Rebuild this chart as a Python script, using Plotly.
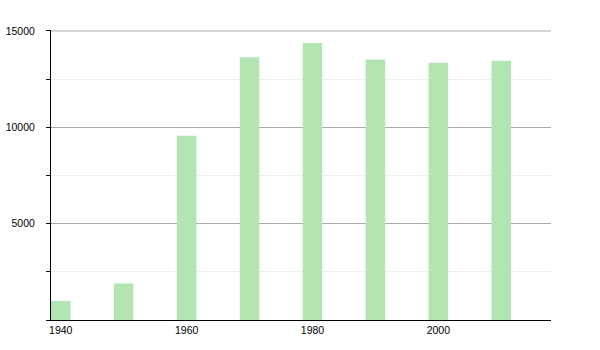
import plotly.graph_objects as go

years = [1940, 1950, 1960, 1970, 1980, 1990, 2000, 2010]
population = [990, 1900, 9560, 13640, 14370, 13520, 13350, 13450]
x_ticks = [1940, 1960, 1980, 2000]
y_ticks = [5000, 10000, 15000]

fig = go.Figure()
fig.add_trace(go.Bar(
    x=years, y=population, width=3.1,
    marker=dict(color="#b3e5b3", line=dict(width=0)),
))
fig.add_hline(y=y_ticks[-1], line=dict(color="#aaaaaa", width=1), layer="below")
fig.update_layout(
    width=600, height=350,
    margin=dict(l=51, r=49, t=30, b=30),
    plot_bgcolor="white", paper_bgcolor="white",
    showlegend=False,
    font=dict(family="Liberation Sans, Arial, sans-serif", size=11, color="#000"),
)
fig.update_xaxes(
    range=[1938.45, 2017.9],
    tickvals=x_ticks, ticktext=[str(v) for v in x_ticks],
    showgrid=False, zeroline=False,
    showline=True, linecolor="#000", linewidth=1,
    ticks="", ticklabelstandoff=0, automargin=False,
    tickfont=dict(size=10.5),
)
fig.update_yaxes(
    range=[0, 15050],
    tickvals=y_ticks, ticktext=[str(v) for v in y_ticks],
    showgrid=True, gridcolor="#aaaaaa", gridwidth=1,
    zeroline=False, automargin=False,
    showline=True, linecolor="#000", linewidth=1,
    ticks="outside", ticklen=4, tickcolor="#000",
    ticklabelstandoff=9, tickfont=dict(size=10.5),
    minor=dict(dtick=2500, tick0=0, showgrid=True, gridcolor="#eeeeee",
               ticks="outside", ticklen=4, tickcolor="#000"),
)
fig.write_html("out.html")
